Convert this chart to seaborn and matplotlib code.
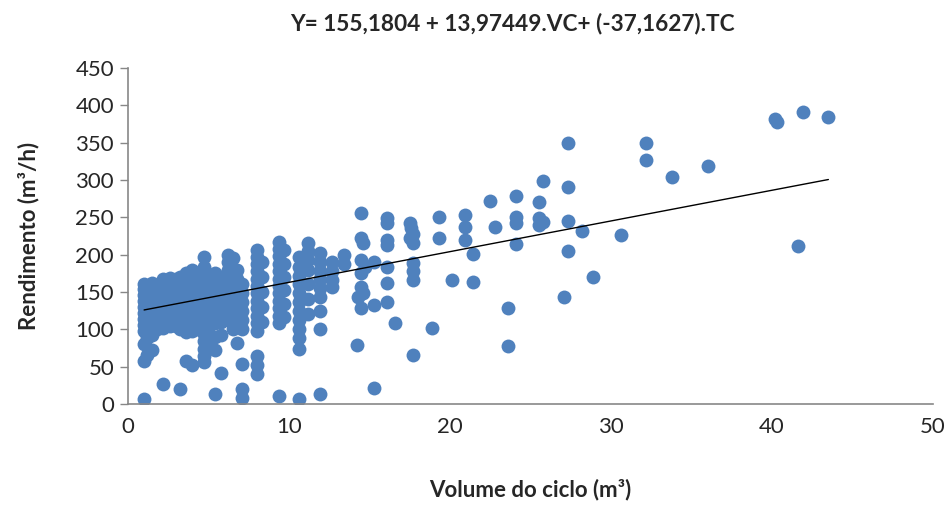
import numpy as np
import pandas as pd
import matplotlib
matplotlib.use("Agg")
import matplotlib.pyplot as plt
import seaborn as sns

# dense part of the cloud: one volume per column, yields
vol_dense_cols = [1.0, 1.2, 1.5, 1.8, 2.2, 2.6, 3.0, 3.2, 3.6, 4.0, 4.3, 4.7, 5.0,
                  5.4, 5.8, 6.2, 6.5, 6.8, 7.1, 8.0, 8.3, 9.4, 9.7, 10.6, 11.2,
                  11.9, 12.7, 13.4]
rend_dense_cols = [
    [7, 58, 80, 98, 106, 114, 122, 130, 138, 146, 154, 160],
    [66, 88, 104, 112, 120, 128, 136, 144, 152, 158],
    [72, 92, 108, 116, 124, 132, 140, 148, 156, 162],
    [100, 110, 118, 126, 134, 142, 150, 158],
    [27, 102, 112, 120, 128, 136, 144, 152, 160, 168],
    [105, 113, 121, 129, 137, 145, 153, 161, 169],
    [104, 112, 120, 128, 136, 144, 152, 160, 168],
    [20, 100, 110, 120, 130, 140, 150, 160, 170],
    [58, 96, 106, 116, 126, 136, 146, 156, 166, 176],
    [52, 98, 108, 118, 128, 138, 148, 158, 168, 180],
    [100, 110, 120, 130, 140, 150, 160, 170],
    [56, 64, 74, 84, 94, 104, 114, 124, 134, 144, 154, 164, 174, 184, 197],
    [80, 104, 112, 120, 128, 136, 144, 152, 160, 168],
    [14, 72, 90, 108, 118, 128, 138, 148, 158, 168, 175],
    [42, 92, 110, 120, 130, 140, 150, 160, 170],
    [112, 120, 130, 140, 150, 160, 170, 180, 190, 200],
    [100, 110, 120, 130, 140, 150, 160, 170, 180, 195],
    [81, 108, 118, 128, 138, 148, 158, 168, 180],
    [8, 20, 54, 101, 112, 124, 136, 148, 160],
    [40, 52, 64, 98, 108, 118, 128, 138, 148, 158, 168, 178, 188, 197, 206],
    [110, 130, 150, 170, 190],
    [11, 108, 118, 128, 138, 148, 158, 168, 178, 188, 198, 208, 217],
    [116, 134, 152, 170, 188, 206],
    [7, 73, 88, 100, 112, 124, 136, 148, 160, 172, 184, 197],
    [120, 140, 160, 180, 193, 205, 215],
    [13, 101, 125, 143, 155, 167, 178, 190, 202],
    [156, 166, 178, 190],
    [187, 199],
]

# scattered points, larger volumes
vol_spread = [14.2, 14.5, 14.5, 14.6, 14.5, 14.7, 14.5, 14.5, 14.6, 14.3, 14.5,
              15.3, 15.3, 15.3, 16.1, 16.1, 16.1, 16.1, 16.1, 16.1, 16.1, 16.6,
              17.5, 17.6, 17.7, 17.5, 17.7, 17.7, 17.7, 17.7, 17.7, 18.9, 19.3,
              19.3, 20.1, 20.9, 20.9, 20.9, 21.4, 21.4, 22.5, 22.8, 23.6, 23.6,
              24.1, 24.1, 24.1, 24.1, 25.5, 25.5, 25.5, 25.8, 25.8, 27.3, 27.3,
              27.3, 27.3, 27.1, 28.2, 28.9]
rend_spread = [79, 256, 222, 215, 193, 183, 175, 156, 148, 143, 129,
               22, 190, 133, 249, 242, 220, 213, 183, 162, 136, 109,
               242, 235, 228, 222, 215, 189, 178, 166, 65, 102, 251,
               222, 166, 253, 237, 220, 201, 163, 272, 237, 128, 77,
               278, 251, 243, 214, 271, 249, 240, 299, 244, 349, 291,
               245, 205, 143, 232, 170]

vol_top = [30.6, 32.2, 32.2, 33.8, 36.0, 40.2, 40.3, 41.9, 43.5, 41.6]
rend_top = [226, 350, 327, 304, 319, 381, 378, 391, 384, 212]

# trend line as drawn in the source
trend_intercept = 121.8
trend_slope = 4.11

vol = [v for v, ys in zip(vol_dense_cols, rend_dense_cols) for _ in ys] + vol_spread + vol_top
rend = [y for ys in rend_dense_cols for y in ys] + rend_spread + rend_top
df = pd.DataFrame({"vc": vol, "rend": rend})

sns.set_style("white")
plt.rcParams["font.family"] = ["Lato", "DejaVu Sans"]

fig = plt.figure(figsize=(9.51, 5.17), dpi=100)
ax = fig.add_axes([0.1346, 0.2186, 0.8465, 0.65])

blue = "#4F81BD"
sns.scatterplot(data=df, x="vc", y="rend", ax=ax, s=100, color=blue,
                linewidth=0, alpha=1)

trend = pd.DataFrame({"vc": [df["vc"].min(), df["vc"].max()]})
trend["rend"] = trend_intercept + trend_slope * trend["vc"]
sns.lineplot(data=trend, x="vc", y="rend", ax=ax, color="black", linewidth=1.0)

ax.set_xlim(0, 50)
ax.set_ylim(0, 450)
ax.set_xticks(range(0, 51, 10))
ax.set_yticks(range(0, 451, 50))
ax.tick_params(axis="y", which="major", left=True, length=6, width=1,
               color="#878787", labelsize=16, pad=4)
ax.tick_params(axis="x", bottom=False, labelsize=16, pad=6)
for side in ["top", "right"]:
    ax.spines[side].set_visible(False)
for side in ["left", "bottom"]:
    ax.spines[side].set_color("#878787")
    ax.spines[side].set_linewidth(1.2)

ax.set_xlabel("Volume do ciclo (m³)", fontsize=16, fontweight="bold", labelpad=30)
ax.set_ylabel("Rendimento (m³/h)", fontsize=16, fontweight="bold", labelpad=26)
fig.text(512 / 951, 1 - 24 / 517, "Y= 155,1804 + 13,97449.VC+ (-37,1627).TC",
         ha="center", va="center", fontsize=16.3, fontweight="bold")

fig.savefig("out.png", dpi=100)
